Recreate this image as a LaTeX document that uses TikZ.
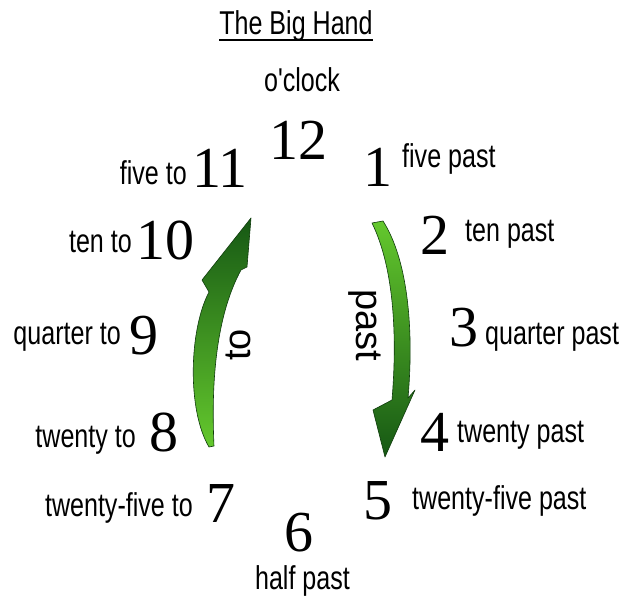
\documentclass[tikz,border=0pt]{standalone}
\usepackage{fontspec}
\usetikzlibrary{calc}
\newfontfamily\lblfont[FakeStretch=0.76]{Liberation Sans}
\newfontfamily\numfont{Liberation Serif}
\newfontfamily\arrfont{Liberation Sans}
\definecolor{darkgr}{RGB}{22,88,20}
\definecolor{lightgr}{RGB}{100,200,45}
\definecolor{edgegr}{RGB}{15,60,12}
\tikzset{
  lbl/.style={inner sep=0pt, font=\lblfont\fontsize{33}{36}\selectfont},
  num/.style={inner sep=0pt, anchor=base, font=\numfont\fontsize{58}{60}\selectfont},
  arrlbl/.style={inner sep=0pt, font=\arrfont\fontsize{38}{40}\selectfont},
  greenarrow/.style={draw=edgegr, line width=0.6pt, line join=round}
}
\begin{document}
\begin{tikzpicture}[x=1pt,y=-1pt]
\useasboundingbox[fill=white] (0,0) rectangle (625,596);

% title
\node[lbl, anchor=base] (title) at (296,35) {The Big Hand};
\draw[line width=1.6pt] ($(title.base west)+(0,5)$) -- ($(title.base east)+(0,5)$);

% numbers
\node[num] (n12) at (298.5,160) {12};
\node[num] (n1) at (377.5,187) {1};
\node[num] (n2) at (435,255) {2};
\node[num] (n3) at (464,347) {3};
\node[num] (n4) at (435,452) {4};
\node[num] (n5) at (378,520) {5};
\node[num] (n6) at (299,552) {6};
\node[num] (n7) at (221,522) {7};
\node[num] (n8) at (164,452) {8};
\node[num] (n9) at (144,355) {9};
\node[num] (n10) at (165.5,260) {10};
\node[num] (n11) at (220,188) {11};

% labels
\node[lbl, anchor=base] (oclock) at (302,92) {o'clock};
\node[lbl, anchor=base] (halfpast) at (302.5,590) {half past};
\node[lbl, anchor=base east] (fiveto) at (187,185) {five to};
\node[lbl, anchor=base east] (tento) at (132,253) {ten to};
\node[lbl, anchor=base east] (quarterto) at (121,345) {quarter to};
\node[lbl, anchor=base east] (twentyto) at (136,448) {twenty to};
\node[lbl, anchor=base east] (twentyfiveto) at (193,517) {twenty-five to};
\node[lbl, anchor=base west] (fivepast) at (402,168) {five past};
\node[lbl, anchor=base west] (tenpast) at (465,242) {ten past};
\node[lbl, anchor=base west] (quarterpast) at (485,345) {quarter past};
\node[lbl, anchor=base west] (twentypast) at (457,443) {twenty past};
\node[lbl, anchor=base west] (twentyfivepast) at (412,510) {twenty-five past};

% "to" arrow (upwards, left side)
\path[greenarrow, top color=darkgr, bottom color=lightgr]
  (209,447) .. controls (187,410) and (189,330) .. (209,292)
  -- (202,280) -- (251,218) -- (247,267) -- (241,270)
  .. controls (222,305) and (210,360) .. (214,446) -- cycle;
% "past" arrow (downwards, right side)
\path[greenarrow, top color=lightgr, bottom color=darkgr]
  (372,223) .. controls (395,270) and (397,340) .. (392,400)
  -- (373,410) -- (385,457) -- (415,390) -- (408,398)
  .. controls (414,330) and (408,260) .. (383,221) -- cycle;

\node[arrlbl, rotate=90] (tolbl) at (238,345) {to};
\node[arrlbl, rotate=-90] (pastlbl) at (365,325) {past};
\end{tikzpicture}
\end{document}
